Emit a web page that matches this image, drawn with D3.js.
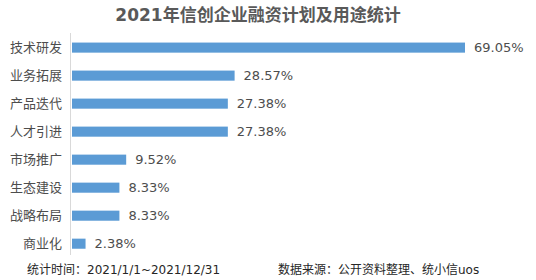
<!DOCTYPE html>
<html>
<head>
<meta charset="utf-8">
<script src="https://cdn.jsdelivr.net/npm/d3@7"></script>
<style>
  body { margin: 0; background: #fff; }
  svg { display: block; font-family: "DejaVu Sans", "Noto Sans CJK SC", sans-serif; }
</style>
</head>
<body>
<div id="chartContainer"></div>
<script>
// Chart data
const categories = ["技术研发", "业务拓展", "产品迭代", "人才引进", "市场推广", "生态建设", "战略布局", "商业化"];
const shares = [69.05, 28.57, 27.38, 27.38, 9.52, 8.33, 8.33, 2.38];
const valueLabels = ["69.05%", "28.57%", "27.38%", "27.38%", "9.52%", "8.33%", "8.33%", "2.38%"];

const titleText = "2021年信创企业融资计划及用途统计";
const footLeft = "统计时间：2021/1/1~2021/12/31";
const footRight = "数据来源：公开资料整理、统小信uos";

const svgWidth = 536;
const svgHeight = 280;

const svg = d3.select("#chartContainer")
    .append("svg")
    .attr("width", svgWidth)
    .attr("height", svgHeight);

// Title
svg.append("text")
    .attr("x", 258)
    .attr("y", 21)
    .attr("text-anchor", "middle")
    .attr("font-size", 17)
    .attr("font-weight", "bold")
    .attr("fill", "#595959")
    .text(titleText);

const xScale = d3.scaleLinear()
    .domain([0, 69.05])
    .range([72, 465]);

const yScale = d3.scaleBand()
    .domain(categories)
    .range([35, 256.3])
    .paddingInner(0.64)
    .paddingOuter(0.27);

// Axis line
svg.append("line")
    .attr("x1", 70.5)
    .attr("x2", 70.5)
    .attr("y1", 33)
    .attr("y2", 255)
    .attr("stroke", "#d9d9d9")
    .attr("stroke-width", 1);

// Category labels
svg.append("g")
    .selectAll("text")
    .data(categories)
    .enter()
    .append("text")
    .attr("x", 62)
    .attr("y", d => yScale(d) + yScale.bandwidth() / 2)
    .attr("dy", "0.36em")
    .attr("text-anchor", "end")
    .attr("font-size", 13)
    .attr("fill", "#4d4d4d")
    .text(d => d);

const bars = svg.selectAll(".bar")
    .data(categories)
    .enter()
    .append("g")
    .attr("class", "bar");

bars.append("rect")
    .attr("x", xScale(0))
    .attr("y", d => yScale(d))
    .attr("height", yScale.bandwidth())
    .attr("width", (d, i) => xScale(shares[i]) - xScale(0))
    .attr("fill", "#5b9bd5");

bars.append("text")
    .attr("x", (d, i) => xScale(shares[i]) + 9)
    .attr("y", d => yScale(d) + yScale.bandwidth() / 2)
    .attr("dy", "0.36em")
    .attr("font-size", 13)
    .attr("fill", "#4d4d4d")
    .text((d, i) => valueLabels[i]);

// Footer
svg.append("text")
    .attr("x", 27)
    .attr("y", 274)
    .attr("font-size", 12)
    .attr("fill", "#262626")
    .text(footLeft);

svg.append("text")
    .attr("x", 278)
    .attr("y", 274)
    .attr("font-size", 12)
    .attr("fill", "#262626")
    .text(footRight);
</script>
</body>
</html>
